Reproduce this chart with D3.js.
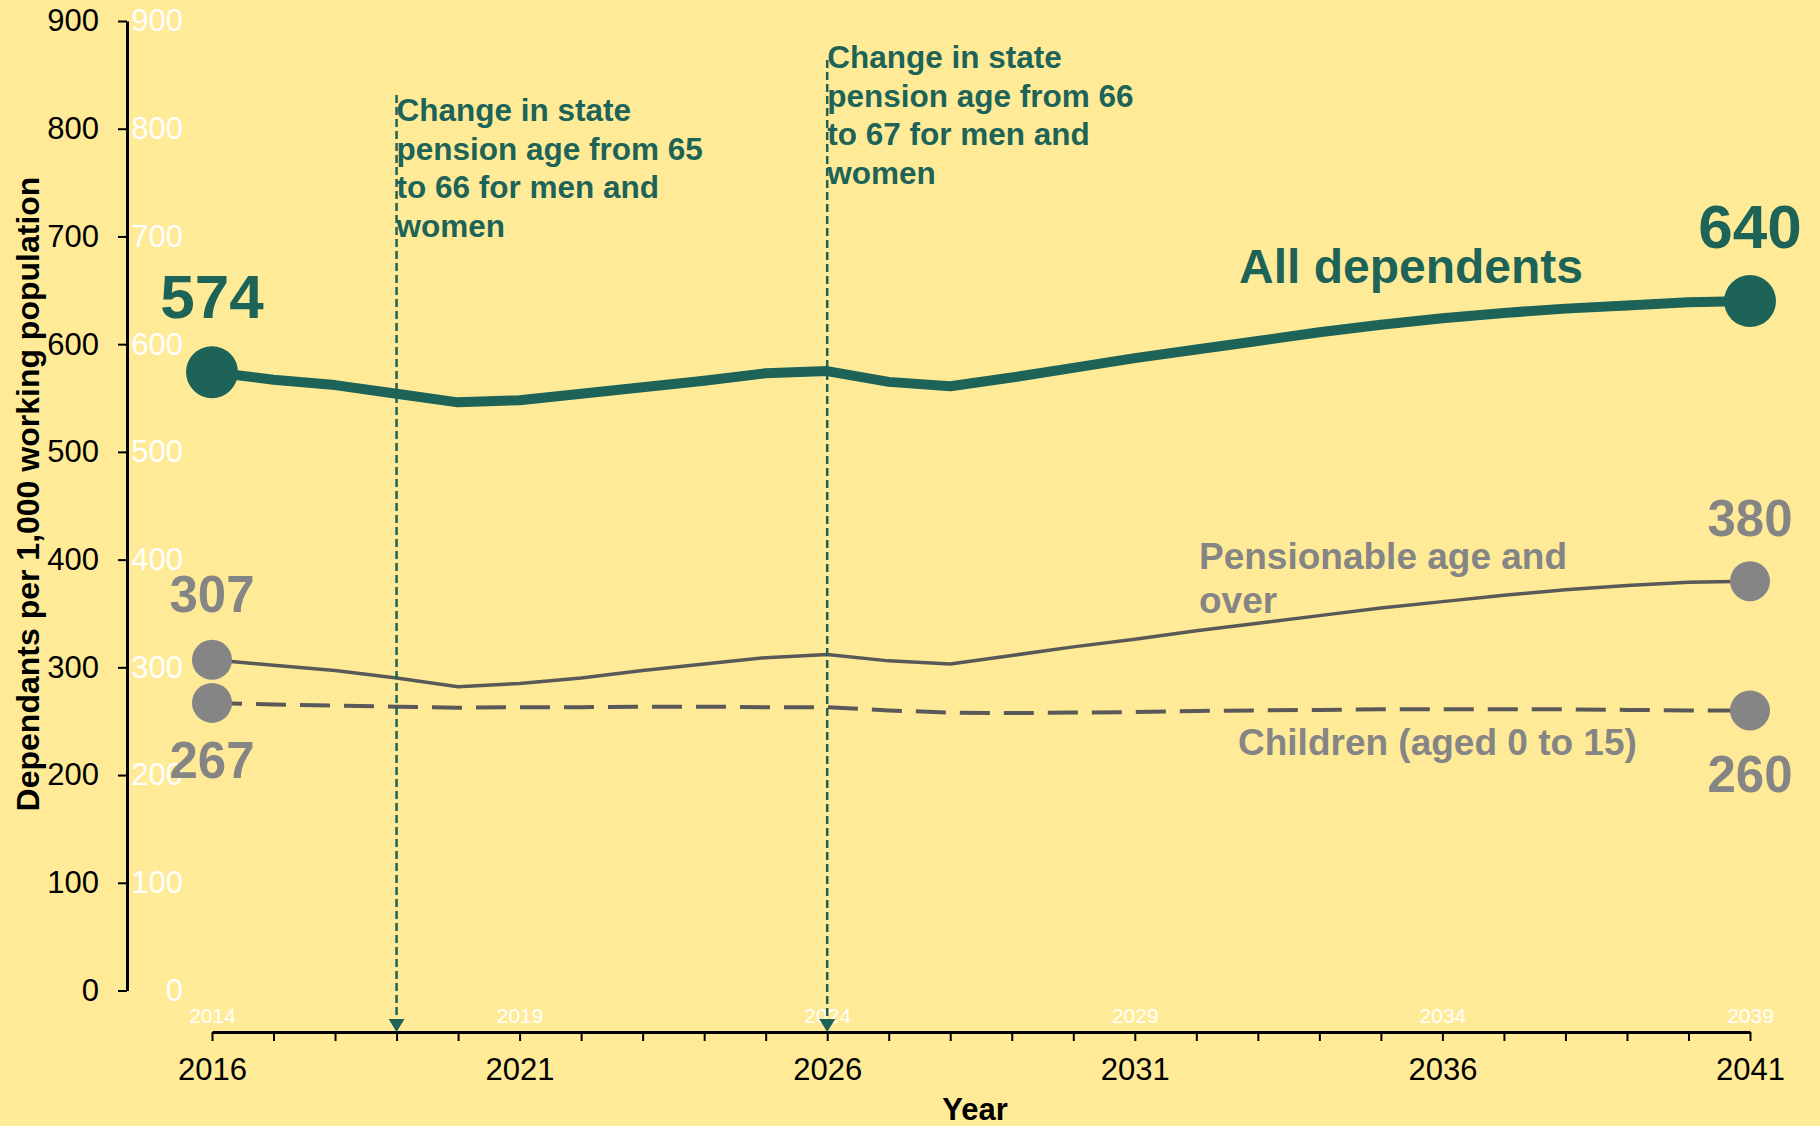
<!DOCTYPE html>
<html><head><meta charset="utf-8">
<script src="https://cdn.jsdelivr.net/npm/d3@7"></script>
<style>
html,body{margin:0;padding:0;background:#FFEB97;}
svg{display:block;font-family:"Liberation Sans",Arial,Helvetica,sans-serif;}
</style></head><body>
<svg id="chart" width="1820" height="1126"></svg>
<script>
// ---------- data ----------
const years = [2016,2017,2018,2019,2020,2021,2022,2023,2024,2025,2026,2027,2028,
               2029,2030,2031,2032,2033,2034,2035,2036,2037,2038,2039,2040,2041];
const allDependents = [574,567,562,554,546,548,554,560,566,573,575,565,561,
                       569,578,587,595,603,611,618,624,629,633,636,639,640];
const pensionable   = [307,302,297,290,282,285,290,297,303,309,312,306,303,
                       311,319,326,334,341,348,355,361,367,372,376,379,380];
const children      = [267,265.5,264.5,263.5,262.5,263,263,263.5,263.5,263,263,260,258,
                       257.5,258,258.5,259.5,260,260.5,261,261,261,261,260.5,260,260];
const yTicks = [0,100,200,300,400,500,600,700,800,900];
const xLabelYears = [2016,2021,2026,2031,2036,2041];
const xGhostLabels = ["2014","2019","2024","2029","2034","2039"];
const annotationYears = [2019, 2026];
const annotationTexts = [
  ["Change in state","pension age from 65","to 66 for men and","women"],
  ["Change in state","pension age from 66","to 67 for men and","women"]
];
const seriesNames = ["All dependents", ["Pensionable age and","over"], "Children (aged 0 to 15)"];
const yTitle = "Dependants per 1,000 working population";
const xTitle = "Year";

// ---------- style ----------
const GREEN = "#1D6358", GREYLINE = "#595959", GREY = "#858585";
const FONT = "Liberation Sans, Arial, sans-serif";
const svg = d3.select("#chart");
svg.append("rect").attr("width",1820).attr("height",1126).attr("fill","#FFEB97");

const x = d3.scaleLinear().domain([2016,2041]).range([212,1750]);
const y = d3.scaleLinear().domain([0,900]).range([990.5,21]);
const AXIS_Y = 1032;

// y axis (black)
const ya = svg.append("g").attr("transform","translate(127,0)")
  .call(d3.axisLeft(y).tickValues(yTicks).tickSize(9).tickSizeOuter(0).tickPadding(19));
ya.select(".domain").attr("stroke","#000").attr("stroke-width",3);
ya.selectAll(".tick line").attr("stroke","#000").attr("stroke-width",2);
ya.selectAll(".tick text").attr("fill","#000").style("font-size","31px").style("font-family",FONT);

// y axis ghost labels (white)
const yg = svg.append("g").attr("transform","translate(183,0)")
  .call(d3.axisLeft(y).tickValues(yTicks).tickSize(0).tickPadding(0));
yg.select(".domain").remove();
yg.selectAll(".tick text").attr("fill","#fff").style("font-size","31px").style("font-family",FONT);

// x axis
const xa = svg.append("g").attr("transform",`translate(0,${AXIS_Y})`)
  .call(d3.axisBottom(x).tickValues(years).tickSize(9).tickSizeOuter(0).tickPadding(17)
        .tickFormat(d => xLabelYears.includes(d) ? String(d) : ""));
xa.select(".domain").attr("stroke","#000").attr("stroke-width",3);
xa.selectAll(".tick line").attr("stroke","#000").attr("stroke-width",2);
xa.selectAll(".tick text").attr("fill","#000").style("font-size","31px").style("font-family",FONT);

// x ghost labels
const xg = svg.append("g").attr("transform",`translate(0,${AXIS_Y})`)
  .call(d3.axisTop(x).tickValues(xLabelYears).tickSize(0).tickPadding(9)
        .tickFormat((d,i) => xGhostLabels[i]));
xg.select(".domain").remove();
xg.selectAll(".tick text").attr("fill","#fff").style("font-size","21px").style("font-family",FONT);

// titles
svg.append("text").attr("transform","translate(39,494) rotate(-90)")
  .attr("text-anchor","middle").attr("font-weight","bold").attr("font-size",32).attr("fill","#000").text(yTitle);
svg.append("text").attr("x",975).attr("y",1120).attr("text-anchor","middle")
  .attr("font-weight","bold").attr("font-size",31).attr("fill","#000").text(xTitle);

// lines
const lineGen = d3.line().x((d,i) => x(years[i])).y(d => y(d));
svg.append("path").datum(children).attr("d",lineGen).attr("fill","none")
  .attr("stroke",GREYLINE).attr("stroke-width",4).attr("stroke-dasharray","30,14");
svg.append("path").datum(pensionable).attr("d",lineGen).attr("fill","none")
  .attr("stroke",GREYLINE).attr("stroke-width",3.5).attr("stroke-linejoin","round");
svg.append("path").datum(allDependents).attr("d",lineGen).attr("fill","none")
  .attr("stroke",GREEN).attr("stroke-width",10).attr("stroke-linejoin","round").attr("stroke-linecap","round");

// annotations
const annTop = [95, 60];
const annBase = [121, 68];
annotationYears.forEach((yr, k) => {
  const ax = x(yr);
  svg.append("line").attr("x1",ax).attr("x2",ax).attr("y1",annTop[k]).attr("y2",AXIS_Y-12)
    .attr("stroke",GREEN).attr("stroke-width",2.5).attr("stroke-dasharray","8,4");
  svg.append("path").attr("d",`M${ax-8},${AXIS_Y-13}L${ax+8},${AXIS_Y-13}L${ax},${AXIS_Y}Z`).attr("fill",GREEN);
  const t = svg.append("text").attr("font-weight","bold").attr("font-size",31.5).attr("fill",GREEN);
  annotationTexts[k].forEach((ln, j) => {
    t.append("tspan").attr("x",ax).attr("y",annBase[k] + j*38.5).text(ln);
  });
});

// end dots
const first = 0, last = years.length - 1;
[[allDependents,26,GREEN],[pensionable,20,GREY],[children,20,GREY]].forEach(([s,r,c]) => {
  [first,last].forEach(i => {
    svg.append("circle").attr("cx",x(years[i])).attr("cy",y(s[i])).attr("r",r).attr("fill",c);
  });
});

// value labels
function valLabel(s, i, dy, size, color) {
  svg.append("text").attr("x",x(years[i])).attr("y",y(s[i]) + dy).attr("text-anchor","middle")
    .attr("font-weight","bold").attr("font-size",size).attr("fill",color).text(s[i]);
}
valLabel(allDependents, first, -54, 62, GREEN);
valLabel(allDependents, last, -53, 62, GREEN);
valLabel(pensionable, first, -48, 51, GREY);
valLabel(pensionable, last, -45, 51, GREY);
valLabel(children, first, 75, 51, GREY);
valLabel(children, last, 82, 51, GREY);

// series labels
svg.append("text").attr("x",1239).attr("y",283).attr("font-weight","bold").attr("font-size",48)
  .attr("fill",GREEN).text(seriesNames[0]);
const pt = svg.append("text").attr("font-weight","bold").attr("font-size",37).attr("fill",GREY);
seriesNames[1].forEach((ln,j) => pt.append("tspan").attr("x",1199).attr("y",569 + j*44).text(ln));
svg.append("text").attr("x",1238).attr("y",755).attr("font-weight","bold").attr("font-size",37)
  .attr("fill",GREY).text(seriesNames[2]);
</script>
</body></html>
